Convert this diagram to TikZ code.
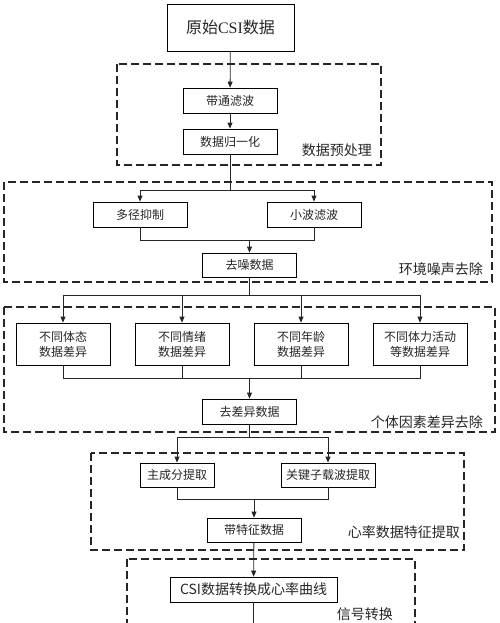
\documentclass[tikz,border=0pt]{standalone}
\usepackage{fontspec}
\newfontfamily\cjk{Noto Sans CJK SC}
\newfontfamily\serifL{Liberation Serif}
\usetikzlibrary{arrows.meta}
\begin{document}
\begin{tikzpicture}[x=1pt,y=-1pt,
 box/.style={draw=black,line width=0.8pt,minimum width=94pt,minimum height=25pt,inner sep=0pt,font=\cjk\fontsize{12}{15}\selectfont,text=black!85,align=center},
 dashbox/.style={draw=black!85,line width=1.2pt,dash pattern=on 8pt off 4pt},
 lbl/.style={font=\cjk\fontsize{14}{16}\selectfont,inner sep=0pt,anchor=east,text=black!85},
 arr/.style={-{Triangle[length=6pt,width=5pt]}},
 ln/.style={draw=black!85,line width=0.8pt}]
\useasboundingbox (0,0) rectangle (500,623);
\clip (0,0) rectangle (500,623);
% dashed groups
\draw[dashbox] (117,64) rectangle (381,165);
\draw[dashbox] (4,182) rectangle (492,282);
\draw[dashbox] (4,307) rectangle (495,432);
\draw[dashbox] (91,453) rectangle (464,550);
\draw[dashbox] (127,559) rectangle (415,660);
% group labels
\node[lbl] (l1) at (372,150) {数据预处理};
\node[lbl] (l2) at (483,269) {环境噪声去除};
\node[lbl] (l3) at (483,422) {个体因素差异去除};
\node[lbl] (l4) at (460,532) {心率数据特征提取};
\node[lbl] (l5) at (393,614) {信号转换};
% nodes
\node[box,minimum width=127pt,minimum height=47pt,font=\fontsize{16}{18}\selectfont] (raw) at (230.5,27.5) {{\cjk 原始}{\serifL CSI}{\cjk 数据}};
\node[box] (bp) at (230,100.5) {带通滤波};
\node[box] (nm) at (230,141.5) {数据归一化};
\node[box] (mp) at (140,214.5) {多径抑制};
\node[box] (wv) at (314,214.5) {小波滤波};
\node[box,minimum height=24pt] (dn) at (249.5,265) {去噪数据};
\node[box,minimum height=42pt] (d1) at (63,344) {不同体态\\数据差异};
\node[box,minimum height=42pt] (d2) at (182,344) {不同情绪\\数据差异};
\node[box,minimum height=42pt] (d3) at (301,344) {不同年龄\\数据差异};
\node[box,minimum height=42pt] (d4) at (420,344) {不同体力活动\\等数据差异};
\node[box] (dd) at (249.5,411.5) {去差异数据};
\node[box,minimum width=74pt,minimum height=24pt] (pc) at (177,475) {主成分提取};
\node[box,minimum height=24pt] (ks) at (328,475) {关键子载波提取};
\node[box,minimum height=24pt] (fd) at (254,530) {带特征数据};
\node[box,minimum width=167pt,font=\cjk\fontsize{14}{16}\selectfont] (csi) at (253.5,589.5) {CSI数据转换成心率曲线};
% connectors
\coordinate (j1) at (230,190);
\coordinate (m1) at (249.5,240);
\coordinate (j2) at (249.5,295);
\coordinate (m2) at (249.5,378);
\coordinate (j3) at (249.5,437);
\coordinate (m3) at (254,499);
\coordinate (bot) at (253.5,640);
\draw[ln,arr] (raw) -- (bp);
\draw[ln,arr] (bp) -- (nm);
\draw[ln] (nm) -- (j1);
\draw[ln,arr] (j1) -| (mp.north);
\draw[ln,arr] (j1) -| (wv.north);
\draw[ln] (mp.south) |- (m1);
\draw[ln] (wv.south) |- (m1);
\draw[ln,arr] (m1) -- (dn);
\draw[ln] (dn) -- (j2);
\draw[ln,arr] (j2) -| (d1.north);
\draw[ln,arr] (j2) -| (d2.north);
\draw[ln,arr] (j2) -| (d3.north);
\draw[ln,arr] (j2) -| (d4.north);
\draw[ln] (d1.south) |- (m2);
\draw[ln] (d2.south) |- (m2);
\draw[ln] (d3.south) |- (m2);
\draw[ln] (d4.south) |- (m2);
\draw[ln,arr] (m2) -- (dd);
\draw[ln] (dd) -- (j3);
\draw[ln,arr] (j3) -| (pc.north);
\draw[ln,arr] (j3) -| (ks.north);
\draw[ln] (pc.south) |- (m3);
\draw[ln] (ks.south) |- (m3);
\draw[ln,arr] (m3) -- (fd);
\draw[ln,arr] (fd) -- (csi);
\draw[ln] (csi) -- (bot);
\end{tikzpicture}
\end{document}
